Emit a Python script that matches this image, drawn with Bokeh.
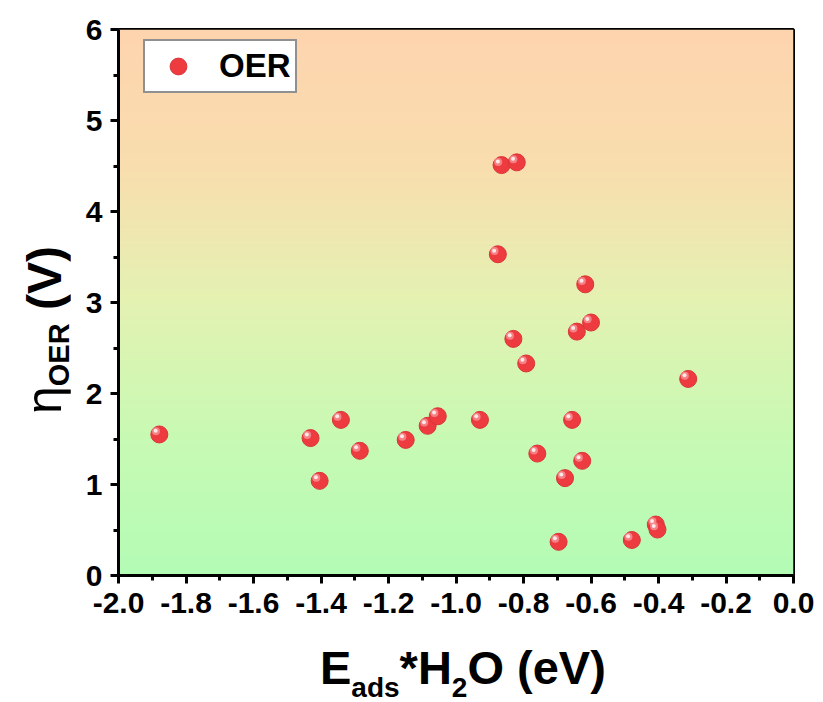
import numpy as np
from bokeh.plotting import figure
from bokeh.models import (ColumnDataSource, FixedTicker, Legend, LegendItem, Div)
from bokeh.transform import dodge
from bokeh.layouts import row, column
from bokeh.embed import file_html
from bokeh.resources import INLINE

# ---- data ----
eads = [-1.879, -1.431, -1.404, -1.341, -1.285, -1.149, -1.084, -1.054,
        -0.929, -0.876, -0.865, -0.830, -0.820, -0.792, -0.759, -0.696,
        -0.677, -0.656, -0.642, -0.626, -0.617, -0.600, -0.479, -0.408,
        -0.403, -0.312]
eta = [1.55, 1.51, 1.04, 1.71, 1.37, 1.49, 1.645, 1.75,
       1.71, 3.53, 4.51, 2.60, 4.54, 2.33, 1.34, 0.37,
       1.07, 1.71, 2.68, 1.26, 3.20, 2.78, 0.39, 0.56,
       0.505, 2.16]
x_ticks = [-2.0, -1.8, -1.6, -1.4, -1.2, -1.0, -0.8, -0.6, -0.4, -0.2, 0.0]
x_tick_labels = ["-2.0", "-1.8", "-1.6", "-1.4", "-1.2", "-1.0", "-0.8",
                 "-0.6", "-0.4", "-0.2", "0.0"]
y_ticks = [0, 1, 2, 3, 4, 5, 6]
y_tick_labels = ["0", "1", "2", "3", "4", "5", "6"]
series_name = "OER"

grad_stops = [0.0, 0.25, 0.5, 0.75, 1.0]
grad_cols = [(180, 252, 182), (200, 250, 180), (228, 242, 178),
             (249, 222, 174), (254, 212, 174)]

F = "Liberation Sans"
src = ColumnDataSource(dict(x=eads, y=eta))

p = figure(width=753, height=640, x_range=(-2.0, 0.0), y_range=(0, 6),
           output_backend="svg", toolbar_location=None, title=None,
           min_border_left=48, min_border_right=30,
           min_border_top=29, min_border_bottom=65)
p.background_fill_color = None
p.border_fill_color = "white"
p.grid.visible = False
p.outline_line_color = "black"
p.outline_line_width = 3

n = 256
fr = np.linspace(0, 1, n)
rgba = np.zeros((n, 2), dtype=np.uint32)
view = rgba.view(dtype=np.uint8).reshape((n, 2, 4))
for c in range(3):
    ch = np.interp(fr, grad_stops, [g[c] for g in grad_cols])
    view[:, :, c] = ch[:, None].astype(np.uint8)
view[:, :, 3] = 255
p.image_rgba(image=[rgba], x=-2.0, y=0, dw=2.0, dh=6)

r_main = p.scatter("x", "y", source=src, size=17, fill_color="#EE3B3F",
                   line_color="#D8353A", line_width=1)
p.scatter(dodge("x", -0.010, range=p.x_range), dodge("y", 0.035, range=p.y_range),
          source=src, size=8, fill_color="#F58A8C", line_color=None, fill_alpha=0.9)
p.scatter(dodge("x", -0.011, range=p.x_range), dodge("y", 0.04, range=p.y_range),
          source=src, size=4, fill_color="#FFE8EA", line_color=None)

for ax in (p.xaxis[0], p.yaxis[0]):
    ax.axis_line_width = 3
    ax.major_tick_line_width = 3
    ax.minor_tick_line_width = 3
    ax.major_tick_out = 8
    ax.major_tick_in = 0
    ax.minor_tick_out = 5
    ax.minor_tick_in = 0
    ax.major_label_text_font = F
    ax.major_label_text_font_style = "bold"
    ax.major_label_text_font_size = "30px"
    ax.major_label_text_color = "black"

p.xaxis.ticker = FixedTicker(ticks=x_ticks,
                             minor_ticks=[t + 0.1 for t in x_ticks[:-1]])
p.xaxis.major_label_overrides = {t: l for t, l in zip(x_ticks, x_tick_labels)}
p.yaxis.ticker = FixedTicker(ticks=y_ticks,
                             minor_ticks=[t + 0.5 for t in y_ticks[:-1]])
p.yaxis.major_label_overrides = {t: l for t, l in zip(y_ticks, y_tick_labels)}
p.xaxis.major_label_standoff = 9
p.yaxis.major_label_standoff = 8

legend = Legend(items=[LegendItem(label=series_name, renderers=[r_main])],
                location=(25, 482), label_text_font=F, label_text_color="black",
                label_text_font_style="bold", label_text_font_size="33px",
                border_line_color="#222222", border_line_width=2,
                background_fill_color="white", background_fill_alpha=1,
                margin=0, padding=4, label_standoff=12, glyph_width=58,
                glyph_height=42, spacing=0, label_height=42)
p.add_layout(legend)

# ---- axis titles as HTML (allows sub-scripts) ----
font_css = "font-family:'Liberation Sans',Arial,sans-serif;color:black;white-space:nowrap;"
x_title_html = (
    '<div style="' + font_css + 'padding-left:250px;padding-top:3px;font-weight:bold;'
    'font-size:47px;line-height:50px;">'
    'E<span style="font-size:28px;position:relative;top:13px;line-height:0;">ads</span>'
    '*H<span style="font-size:28px;position:relative;top:13px;line-height:0;">2</span>'
    'O (eV)</div>')
y_title_html = (
    '<div style="position:relative;width:70px;height:702px;">'
    '<div style="' + font_css + 'position:absolute;left:19px;top:414px;'
    'transform:rotate(-90deg);transform-origin:0 0;font-size:48px;line-height:50px;">'
    '<span style="font-weight:normal;font-size:50px;">\u03b7</span>'
    '<span style="font-weight:bold;font-size:29px;position:relative;top:8px;line-height:0;">OER</span>'
    '<span style="font-weight:bold;"> (V)</span></div></div>')

xdiv = Div(text=x_title_html, width=753, height=62, margin=0)
ydiv = Div(text=y_title_html, width=70, height=702, margin=0)

layout = row(ydiv, column(p, xdiv, spacing=0), spacing=0)
open("out.html", "w").write(file_html(layout, INLINE))
